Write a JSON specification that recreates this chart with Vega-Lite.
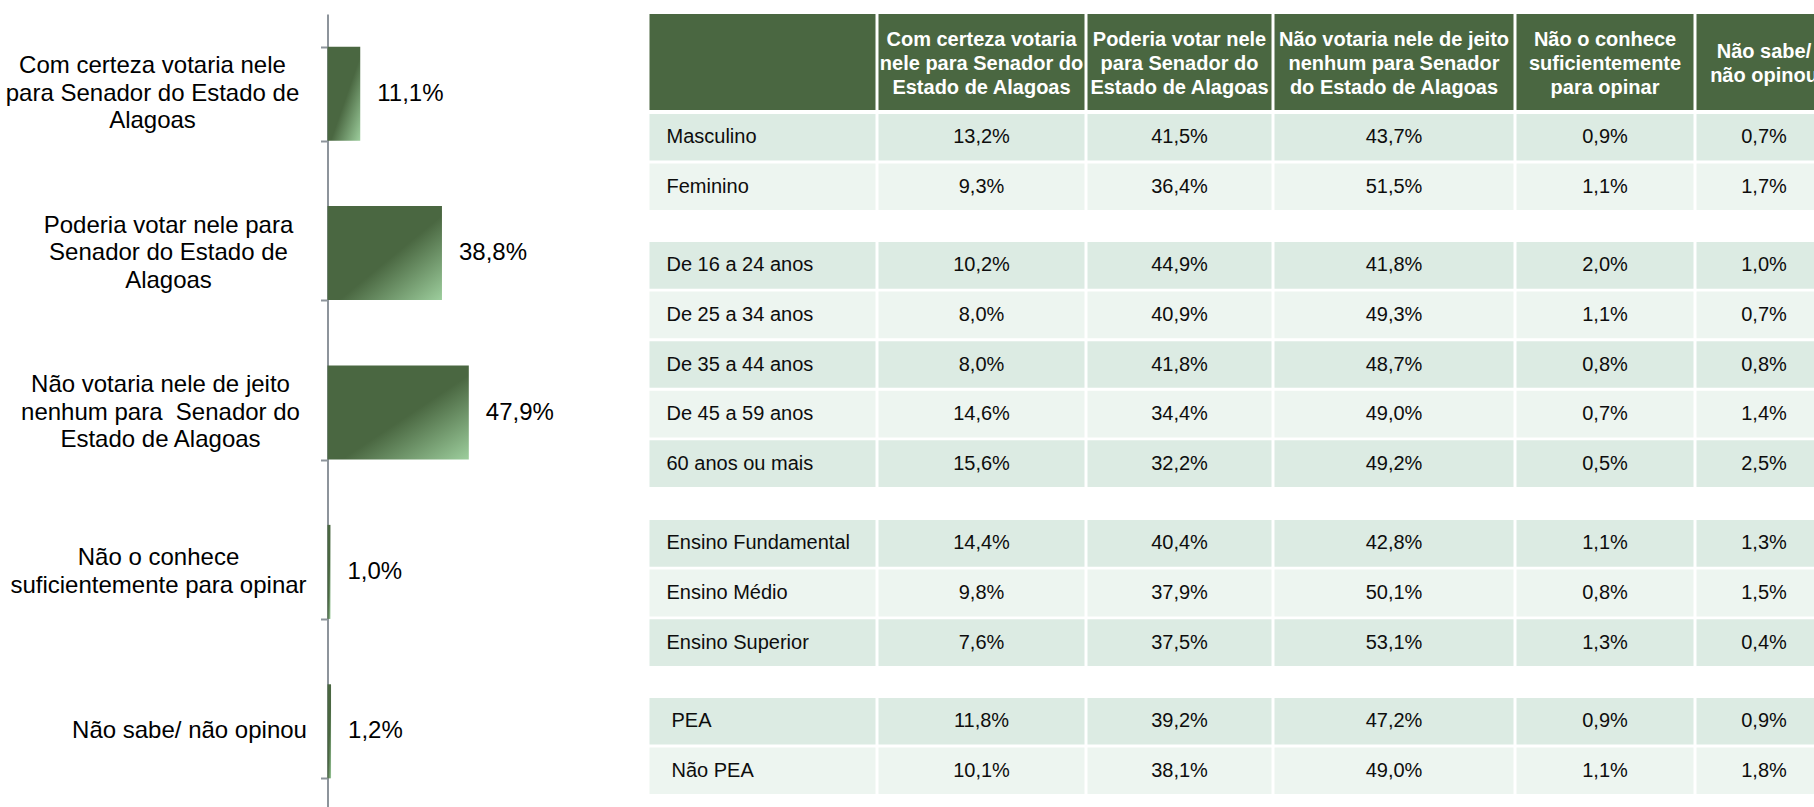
{
  "$schema": "https://vega.github.io/schema/vega-lite/v6.json",
  "padding": {"left": 5.5, "top": 14, "right": 0, "bottom": 0},
  "background": "white",
  "config": {
    "view": {"stroke": null},
    "locale": {"number": {"decimal": ",", "thousands": ".", "grouping": [3], "currency": ["R$", ""]}}
  },
  "datasets": {
    "bars": [
      {"resp": "Com certeza votaria nele\npara Senador do Estado de\nAlagoas", "pct": 0.111},
      {"resp": "Poderia votar nele para\nSenador do Estado de\nAlagoas", "pct": 0.388},
      {"resp": "Não votaria nele de jeito\nnenhum para\u00a0 Senador do\nEstado de Alagoas", "pct": 0.479},
      {"resp": "Não o conhece\nsuficientemente para opinar", "pct": 0.010},
      {"resp": "Não sabe/ não opinou", "pct": 0.012}
    ],
    "heads": [
      {"col": "c0", "head": ""},
      {"col": "c1", "head": ["Com certeza votaria", "nele para Senador do", "Estado de Alagoas"]},
      {"col": "c2", "head": ["Poderia votar nele", "para Senador do", "Estado de Alagoas"]},
      {"col": "c3", "head": ["Não votaria nele de jeito", "nenhum para Senador", "do Estado de Alagoas"]},
      {"col": "c4", "head": ["Não o conhece", "suficientemente", "para opinar"]},
      {"col": "c5", "head": ["Não sabe/", "não opinou"]}
    ],
    "cells": [
      {"grp": 1, "row": "Masculino", "col": "c1", "val": 0.132},
      {"grp": 1, "row": "Masculino", "col": "c2", "val": 0.415},
      {"grp": 1, "row": "Masculino", "col": "c3", "val": 0.437},
      {"grp": 1, "row": "Masculino", "col": "c4", "val": 0.009},
      {"grp": 1, "row": "Masculino", "col": "c5", "val": 0.007},
      {"grp": 1, "row": "Feminino", "col": "c1", "val": 0.093},
      {"grp": 1, "row": "Feminino", "col": "c2", "val": 0.364},
      {"grp": 1, "row": "Feminino", "col": "c3", "val": 0.515},
      {"grp": 1, "row": "Feminino", "col": "c4", "val": 0.011},
      {"grp": 1, "row": "Feminino", "col": "c5", "val": 0.017},
      {"grp": 2, "row": "De 16 a 24 anos", "col": "c1", "val": 0.102},
      {"grp": 2, "row": "De 16 a 24 anos", "col": "c2", "val": 0.449},
      {"grp": 2, "row": "De 16 a 24 anos", "col": "c3", "val": 0.418},
      {"grp": 2, "row": "De 16 a 24 anos", "col": "c4", "val": 0.020},
      {"grp": 2, "row": "De 16 a 24 anos", "col": "c5", "val": 0.010},
      {"grp": 2, "row": "De 25 a 34 anos", "col": "c1", "val": 0.080},
      {"grp": 2, "row": "De 25 a 34 anos", "col": "c2", "val": 0.409},
      {"grp": 2, "row": "De 25 a 34 anos", "col": "c3", "val": 0.493},
      {"grp": 2, "row": "De 25 a 34 anos", "col": "c4", "val": 0.011},
      {"grp": 2, "row": "De 25 a 34 anos", "col": "c5", "val": 0.007},
      {"grp": 2, "row": "De 35 a 44 anos", "col": "c1", "val": 0.080},
      {"grp": 2, "row": "De 35 a 44 anos", "col": "c2", "val": 0.418},
      {"grp": 2, "row": "De 35 a 44 anos", "col": "c3", "val": 0.487},
      {"grp": 2, "row": "De 35 a 44 anos", "col": "c4", "val": 0.008},
      {"grp": 2, "row": "De 35 a 44 anos", "col": "c5", "val": 0.008},
      {"grp": 2, "row": "De 45 a 59 anos", "col": "c1", "val": 0.146},
      {"grp": 2, "row": "De 45 a 59 anos", "col": "c2", "val": 0.344},
      {"grp": 2, "row": "De 45 a 59 anos", "col": "c3", "val": 0.490},
      {"grp": 2, "row": "De 45 a 59 anos", "col": "c4", "val": 0.007},
      {"grp": 2, "row": "De 45 a 59 anos", "col": "c5", "val": 0.014},
      {"grp": 2, "row": "60 anos ou mais", "col": "c1", "val": 0.156},
      {"grp": 2, "row": "60 anos ou mais", "col": "c2", "val": 0.322},
      {"grp": 2, "row": "60 anos ou mais", "col": "c3", "val": 0.492},
      {"grp": 2, "row": "60 anos ou mais", "col": "c4", "val": 0.005},
      {"grp": 2, "row": "60 anos ou mais", "col": "c5", "val": 0.025},
      {"grp": 3, "row": "Ensino Fundamental", "col": "c1", "val": 0.144},
      {"grp": 3, "row": "Ensino Fundamental", "col": "c2", "val": 0.404},
      {"grp": 3, "row": "Ensino Fundamental", "col": "c3", "val": 0.428},
      {"grp": 3, "row": "Ensino Fundamental", "col": "c4", "val": 0.011},
      {"grp": 3, "row": "Ensino Fundamental", "col": "c5", "val": 0.013},
      {"grp": 3, "row": "Ensino Médio", "col": "c1", "val": 0.098},
      {"grp": 3, "row": "Ensino Médio", "col": "c2", "val": 0.379},
      {"grp": 3, "row": "Ensino Médio", "col": "c3", "val": 0.501},
      {"grp": 3, "row": "Ensino Médio", "col": "c4", "val": 0.008},
      {"grp": 3, "row": "Ensino Médio", "col": "c5", "val": 0.015},
      {"grp": 3, "row": "Ensino Superior", "col": "c1", "val": 0.076},
      {"grp": 3, "row": "Ensino Superior", "col": "c2", "val": 0.375},
      {"grp": 3, "row": "Ensino Superior", "col": "c3", "val": 0.531},
      {"grp": 3, "row": "Ensino Superior", "col": "c4", "val": 0.013},
      {"grp": 3, "row": "Ensino Superior", "col": "c5", "val": 0.004},
      {"grp": 4, "row": "PEA", "col": "c1", "val": 0.118},
      {"grp": 4, "row": "PEA", "col": "c2", "val": 0.392},
      {"grp": 4, "row": "PEA", "col": "c3", "val": 0.472},
      {"grp": 4, "row": "PEA", "col": "c4", "val": 0.009},
      {"grp": 4, "row": "PEA", "col": "c5", "val": 0.009},
      {"grp": 4, "row": "Não PEA", "col": "c1", "val": 0.101},
      {"grp": 4, "row": "Não PEA", "col": "c2", "val": 0.381},
      {"grp": 4, "row": "Não PEA", "col": "c3", "val": 0.490},
      {"grp": 4, "row": "Não PEA", "col": "c4", "val": 0.011},
      {"grp": 4, "row": "Não PEA", "col": "c5", "val": 0.018}
    ]
  },
  "spacing": 27,
  "hconcat": [
    {
      "width": 295,
      "height": 797,
      "data": {"name": "bars"},
      "encoding": {
        "y": {
          "field": "resp", "type": "nominal", "sort": null, "title": null,
          "scale": {"paddingInner": 0.41, "paddingOuter": 0.205},
          "axis": {
            "domainColor": "#8d949b", "domainWidth": 2,
            "tickColor": "#8d949b", "tickWidth": 2, "tickSize": 7, "tickBand": "extent",
            "labels": false
          }
        }
      },
      "layer": [
        {
          "mark": {
            "type": "bar",
            "color": {
              "gradient": "linear", "x1": 0, "y1": 0, "x2": 1, "y2": 1,
              "stops": [
                {"offset": 0, "color": "#4a6741"},
                {"offset": 0.55, "color": "#4a6741"},
                {"offset": 1, "color": "#9dce9d"}
              ]
            }
          },
          "encoding": {
            "x": {"field": "pct", "type": "quantitative", "scale": {"domain": [0, 1]}, "axis": null}
          }
        },
        {
          "mark": {"type": "text", "align": "left", "baseline": "middle", "dx": 17, "font": "Liberation Sans", "fontSize": 24, "color": "#000000"},
          "encoding": {
            "x": {"field": "pct", "type": "quantitative", "axis": null},
            "text": {"field": "pct", "type": "quantitative", "format": ".1%"}
          }
        },
        {
          "transform": [{"filter": "indexof(datum.resp, 'Com certeza') === 0"}],
          "mark": {"type": "text", "align": "center", "baseline": "middle", "lineBreak": "\n", "lineHeight": 27.5, "dx": -175, "dy": -27.5, "font": "Liberation Sans", "fontSize": 24, "color": "#000000"},
          "encoding": {"x": {"datum": 0, "type": "quantitative"}, "text": {"field": "resp", "type": "nominal"}}
        },
        {
          "transform": [{"filter": "indexof(datum.resp, 'Poderia') === 0"}],
          "mark": {"type": "text", "align": "center", "baseline": "middle", "lineBreak": "\n", "lineHeight": 27.5, "dx": -159, "dy": -27.5, "font": "Liberation Sans", "fontSize": 24, "color": "#000000"},
          "encoding": {"x": {"datum": 0, "type": "quantitative"}, "text": {"field": "resp", "type": "nominal"}}
        },
        {
          "transform": [{"filter": "indexof(datum.resp, 'Não votaria') === 0"}],
          "mark": {"type": "text", "align": "center", "baseline": "middle", "lineBreak": "\n", "lineHeight": 27.5, "dx": -167, "dy": -27.5, "font": "Liberation Sans", "fontSize": 24, "color": "#000000"},
          "encoding": {"x": {"datum": 0, "type": "quantitative"}, "text": {"field": "resp", "type": "nominal"}}
        },
        {
          "transform": [{"filter": "indexof(datum.resp, 'Não o conhece') === 0"}],
          "mark": {"type": "text", "align": "center", "baseline": "middle", "lineBreak": "\n", "lineHeight": 27.5, "dx": -169, "dy": -13.75, "font": "Liberation Sans", "fontSize": 24, "color": "#000000"},
          "encoding": {"x": {"datum": 0, "type": "quantitative"}, "text": {"field": "resp", "type": "nominal"}}
        },
        {
          "transform": [{"filter": "indexof(datum.resp, 'Não sabe') === 0"}],
          "mark": {"type": "text", "align": "center", "baseline": "middle", "lineBreak": "\n", "lineHeight": 27.5, "dx": -138, "dy": 0, "font": "Liberation Sans", "fontSize": 24, "color": "#000000"},
          "encoding": {"x": {"datum": 0, "type": "quantitative"}, "text": {"field": "resp", "type": "nominal"}}
        }
      ]
    },
    {
      "spacing": 4,
      "vconcat": [
        {
          "spacing": 3,
          "hconcat": [
            {"width": 226, "height": 96, "data": {"name": "heads"}, "transform": [{"filter": "datum.col == 'c0'"}],
             "encoding": {"x": {"field": "col", "type": "nominal", "axis": null, "scale": {"paddingInner": 0, "paddingOuter": 0}}, "y": {"field": "col", "type": "nominal", "axis": null, "scale": {"paddingInner": 0, "paddingOuter": 0}}},
             "layer": [{"mark": {"type": "rect", "color": "#4a6741"}}]},
            {"width": 206, "height": 96, "data": {"name": "heads"}, "transform": [{"filter": "datum.col == 'c1'"}],
             "encoding": {"x": {"field": "col", "type": "nominal", "axis": null, "scale": {"paddingInner": 0, "paddingOuter": 0}}, "y": {"field": "col", "type": "nominal", "axis": null, "scale": {"paddingInner": 0, "paddingOuter": 0}}},
             "layer": [{"mark": {"type": "rect", "color": "#4a6741"}}, {"mark": {"type": "text", "font": "Liberation Sans", "fontSize": 20, "fontWeight": "bold", "color": "#ffffff", "lineHeight": 24, "dy": -22}, "encoding": {"text": {"field": "head"}}}]},
            {"width": 184, "height": 96, "data": {"name": "heads"}, "transform": [{"filter": "datum.col == 'c2'"}],
             "encoding": {"x": {"field": "col", "type": "nominal", "axis": null, "scale": {"paddingInner": 0, "paddingOuter": 0}}, "y": {"field": "col", "type": "nominal", "axis": null, "scale": {"paddingInner": 0, "paddingOuter": 0}}},
             "layer": [{"mark": {"type": "rect", "color": "#4a6741"}}, {"mark": {"type": "text", "font": "Liberation Sans", "fontSize": 20, "fontWeight": "bold", "color": "#ffffff", "lineHeight": 24, "dy": -22}, "encoding": {"text": {"field": "head"}}}]},
            {"width": 239, "height": 96, "data": {"name": "heads"}, "transform": [{"filter": "datum.col == 'c3'"}],
             "encoding": {"x": {"field": "col", "type": "nominal", "axis": null, "scale": {"paddingInner": 0, "paddingOuter": 0}}, "y": {"field": "col", "type": "nominal", "axis": null, "scale": {"paddingInner": 0, "paddingOuter": 0}}},
             "layer": [{"mark": {"type": "rect", "color": "#4a6741"}}, {"mark": {"type": "text", "font": "Liberation Sans", "fontSize": 20, "fontWeight": "bold", "color": "#ffffff", "lineHeight": 24, "dy": -22}, "encoding": {"text": {"field": "head"}}}]},
            {"width": 177, "height": 96, "data": {"name": "heads"}, "transform": [{"filter": "datum.col == 'c4'"}],
             "encoding": {"x": {"field": "col", "type": "nominal", "axis": null, "scale": {"paddingInner": 0, "paddingOuter": 0}}, "y": {"field": "col", "type": "nominal", "axis": null, "scale": {"paddingInner": 0, "paddingOuter": 0}}},
             "layer": [{"mark": {"type": "rect", "color": "#4a6741"}}, {"mark": {"type": "text", "font": "Liberation Sans", "fontSize": 20, "fontWeight": "bold", "color": "#ffffff", "lineHeight": 24, "dy": -22}, "encoding": {"text": {"field": "head"}}}]},
            {"width": 135, "height": 96, "data": {"name": "heads"}, "transform": [{"filter": "datum.col == 'c5'"}],
             "encoding": {"x": {"field": "col", "type": "nominal", "axis": null, "scale": {"paddingInner": 0, "paddingOuter": 0}}, "y": {"field": "col", "type": "nominal", "axis": null, "scale": {"paddingInner": 0, "paddingOuter": 0}}},
             "layer": [{"mark": {"type": "rect", "color": "#4a6741"}}, {"mark": {"type": "text", "font": "Liberation Sans", "fontSize": 20, "fontWeight": "bold", "color": "#ffffff", "lineHeight": 24, "dy": -10}, "encoding": {"text": {"field": "head"}}}]}
          ]
        },
        {
          "spacing": 32,
          "vconcat": [
            {
              "spacing": 3,
              "hconcat": [
                {"width": 226, "height": 96, "data": {"name": "cells"}, "transform": [{"filter": "datum.grp == 1 && datum.col == 'c1'"}, {"window": [{"op": "row_number", "as": "rn"}]}],
                 "encoding": {"y": {"field": "row", "type": "nominal", "sort": null, "axis": null, "scale": {"paddingInner": 0.057, "paddingOuter": 0}}, "x": {"field": "col", "type": "nominal", "axis": null, "scale": {"paddingInner": 0, "paddingOuter": 0}}},
                 "layer": [{"mark": "rect", "encoding": {"fill": {"condition": {"test": "datum.rn % 2 == 1", "value": "#dcebe3"}, "value": "#edf5f0"}}},
                           {"mark": {"type": "text", "align": "left", "dx": 17, "font": "Liberation Sans", "fontSize": 20, "color": "#0d0d0d"}, "encoding": {"x": {"field": "col", "type": "nominal", "axis": null, "bandPosition": 0}, "text": {"field": "row", "type": "nominal"}}}]},
                {"width": 206, "height": 96, "data": {"name": "cells"}, "transform": [{"filter": "datum.grp == 1 && datum.col == 'c1'"}, {"window": [{"op": "row_number", "as": "rn"}]}],
                 "encoding": {"y": {"field": "row", "type": "nominal", "sort": null, "axis": null, "scale": {"paddingInner": 0.057, "paddingOuter": 0}}, "x": {"field": "col", "type": "nominal", "axis": null, "scale": {"paddingInner": 0, "paddingOuter": 0}}},
                 "layer": [{"mark": "rect", "encoding": {"fill": {"condition": {"test": "datum.rn % 2 == 1", "value": "#dcebe3"}, "value": "#edf5f0"}}},
                           {"mark": {"type": "text", "font": "Liberation Sans", "fontSize": 20, "color": "#0d0d0d"}, "encoding": {"text": {"field": "val", "type": "quantitative", "format": ".1%"}}}]},
                {"width": 184, "height": 96, "data": {"name": "cells"}, "transform": [{"filter": "datum.grp == 1 && datum.col == 'c2'"}, {"window": [{"op": "row_number", "as": "rn"}]}],
                 "encoding": {"y": {"field": "row", "type": "nominal", "sort": null, "axis": null, "scale": {"paddingInner": 0.057, "paddingOuter": 0}}, "x": {"field": "col", "type": "nominal", "axis": null, "scale": {"paddingInner": 0, "paddingOuter": 0}}},
                 "layer": [{"mark": "rect", "encoding": {"fill": {"condition": {"test": "datum.rn % 2 == 1", "value": "#dcebe3"}, "value": "#edf5f0"}}},
                           {"mark": {"type": "text", "font": "Liberation Sans", "fontSize": 20, "color": "#0d0d0d"}, "encoding": {"text": {"field": "val", "type": "quantitative", "format": ".1%"}}}]},
                {"width": 239, "height": 96, "data": {"name": "cells"}, "transform": [{"filter": "datum.grp == 1 && datum.col == 'c3'"}, {"window": [{"op": "row_number", "as": "rn"}]}],
                 "encoding": {"y": {"field": "row", "type": "nominal", "sort": null, "axis": null, "scale": {"paddingInner": 0.057, "paddingOuter": 0}}, "x": {"field": "col", "type": "nominal", "axis": null, "scale": {"paddingInner": 0, "paddingOuter": 0}}},
                 "layer": [{"mark": "rect", "encoding": {"fill": {"condition": {"test": "datum.rn % 2 == 1", "value": "#dcebe3"}, "value": "#edf5f0"}}},
                           {"mark": {"type": "text", "font": "Liberation Sans", "fontSize": 20, "color": "#0d0d0d"}, "encoding": {"text": {"field": "val", "type": "quantitative", "format": ".1%"}}}]},
                {"width": 177, "height": 96, "data": {"name": "cells"}, "transform": [{"filter": "datum.grp == 1 && datum.col == 'c4'"}, {"window": [{"op": "row_number", "as": "rn"}]}],
                 "encoding": {"y": {"field": "row", "type": "nominal", "sort": null, "axis": null, "scale": {"paddingInner": 0.057, "paddingOuter": 0}}, "x": {"field": "col", "type": "nominal", "axis": null, "scale": {"paddingInner": 0, "paddingOuter": 0}}},
                 "layer": [{"mark": "rect", "encoding": {"fill": {"condition": {"test": "datum.rn % 2 == 1", "value": "#dcebe3"}, "value": "#edf5f0"}}},
                           {"mark": {"type": "text", "font": "Liberation Sans", "fontSize": 20, "color": "#0d0d0d"}, "encoding": {"text": {"field": "val", "type": "quantitative", "format": ".1%"}}}]},
                {"width": 135, "height": 96, "data": {"name": "cells"}, "transform": [{"filter": "datum.grp == 1 && datum.col == 'c5'"}, {"window": [{"op": "row_number", "as": "rn"}]}],
                 "encoding": {"y": {"field": "row", "type": "nominal", "sort": null, "axis": null, "scale": {"paddingInner": 0.057, "paddingOuter": 0}}, "x": {"field": "col", "type": "nominal", "axis": null, "scale": {"paddingInner": 0, "paddingOuter": 0}}},
                 "layer": [{"mark": "rect", "encoding": {"fill": {"condition": {"test": "datum.rn % 2 == 1", "value": "#dcebe3"}, "value": "#edf5f0"}}},
                           {"mark": {"type": "text", "font": "Liberation Sans", "fontSize": 20, "color": "#0d0d0d"}, "encoding": {"text": {"field": "val", "type": "quantitative", "format": ".1%"}}}]}
              ]
            },
            {
              "spacing": 3,
              "hconcat": [
                {"width": 226, "height": 245, "data": {"name": "cells"}, "transform": [{"filter": "datum.grp == 2 && datum.col == 'c1'"}, {"window": [{"op": "row_number", "as": "rn"}]}],
                 "encoding": {"y": {"field": "row", "type": "nominal", "sort": null, "axis": null, "scale": {"paddingInner": 0.057, "paddingOuter": 0}}, "x": {"field": "col", "type": "nominal", "axis": null, "scale": {"paddingInner": 0, "paddingOuter": 0}}},
                 "layer": [{"mark": "rect", "encoding": {"fill": {"condition": {"test": "datum.rn % 2 == 1", "value": "#dcebe3"}, "value": "#edf5f0"}}},
                           {"mark": {"type": "text", "align": "left", "dx": 17, "font": "Liberation Sans", "fontSize": 20, "color": "#0d0d0d"}, "encoding": {"x": {"field": "col", "type": "nominal", "axis": null, "bandPosition": 0}, "text": {"field": "row", "type": "nominal"}}}]},
                {"width": 206, "height": 245, "data": {"name": "cells"}, "transform": [{"filter": "datum.grp == 2 && datum.col == 'c1'"}, {"window": [{"op": "row_number", "as": "rn"}]}],
                 "encoding": {"y": {"field": "row", "type": "nominal", "sort": null, "axis": null, "scale": {"paddingInner": 0.057, "paddingOuter": 0}}, "x": {"field": "col", "type": "nominal", "axis": null, "scale": {"paddingInner": 0, "paddingOuter": 0}}},
                 "layer": [{"mark": "rect", "encoding": {"fill": {"condition": {"test": "datum.rn % 2 == 1", "value": "#dcebe3"}, "value": "#edf5f0"}}},
                           {"mark": {"type": "text", "font": "Liberation Sans", "fontSize": 20, "color": "#0d0d0d"}, "encoding": {"text": {"field": "val", "type": "quantitative", "format": ".1%"}}}]},
                {"width": 184, "height": 245, "data": {"name": "cells"}, "transform": [{"filter": "datum.grp == 2 && datum.col == 'c2'"}, {"window": [{"op": "row_number", "as": "rn"}]}],
                 "encoding": {"y": {"field": "row", "type": "nominal", "sort": null, "axis": null, "scale": {"paddingInner": 0.057, "paddingOuter": 0}}, "x": {"field": "col", "type": "nominal", "axis": null, "scale": {"paddingInner": 0, "paddingOuter": 0}}},
                 "layer": [{"mark": "rect", "encoding": {"fill": {"condition": {"test": "datum.rn % 2 == 1", "value": "#dcebe3"}, "value": "#edf5f0"}}},
                           {"mark": {"type": "text", "font": "Liberation Sans", "fontSize": 20, "color": "#0d0d0d"}, "encoding": {"text": {"field": "val", "type": "quantitative", "format": ".1%"}}}]},
                {"width": 239, "height": 245, "data": {"name": "cells"}, "transform": [{"filter": "datum.grp == 2 && datum.col == 'c3'"}, {"window": [{"op": "row_number", "as": "rn"}]}],
                 "encoding": {"y": {"field": "row", "type": "nominal", "sort": null, "axis": null, "scale": {"paddingInner": 0.057, "paddingOuter": 0}}, "x": {"field": "col", "type": "nominal", "axis": null, "scale": {"paddingInner": 0, "paddingOuter": 0}}},
                 "layer": [{"mark": "rect", "encoding": {"fill": {"condition": {"test": "datum.rn % 2 == 1", "value": "#dcebe3"}, "value": "#edf5f0"}}},
                           {"mark": {"type": "text", "font": "Liberation Sans", "fontSize": 20, "color": "#0d0d0d"}, "encoding": {"text": {"field": "val", "type": "quantitative", "format": ".1%"}}}]},
                {"width": 177, "height": 245, "data": {"name": "cells"}, "transform": [{"filter": "datum.grp == 2 && datum.col == 'c4'"}, {"window": [{"op": "row_number", "as": "rn"}]}],
                 "encoding": {"y": {"field": "row", "type": "nominal", "sort": null, "axis": null, "scale": {"paddingInner": 0.057, "paddingOuter": 0}}, "x": {"field": "col", "type": "nominal", "axis": null, "scale": {"paddingInner": 0, "paddingOuter": 0}}},
                 "layer": [{"mark": "rect", "encoding": {"fill": {"condition": {"test": "datum.rn % 2 == 1", "value": "#dcebe3"}, "value": "#edf5f0"}}},
                           {"mark": {"type": "text", "font": "Liberation Sans", "fontSize": 20, "color": "#0d0d0d"}, "encoding": {"text": {"field": "val", "type": "quantitative", "format": ".1%"}}}]},
                {"width": 135, "height": 245, "data": {"name": "cells"}, "transform": [{"filter": "datum.grp == 2 && datum.col == 'c5'"}, {"window": [{"op": "row_number", "as": "rn"}]}],
                 "encoding": {"y": {"field": "row", "type": "nominal", "sort": null, "axis": null, "scale": {"paddingInner": 0.057, "paddingOuter": 0}}, "x": {"field": "col", "type": "nominal", "axis": null, "scale": {"paddingInner": 0, "paddingOuter": 0}}},
                 "layer": [{"mark": "rect", "encoding": {"fill": {"condition": {"test": "datum.rn % 2 == 1", "value": "#dcebe3"}, "value": "#edf5f0"}}},
                           {"mark": {"type": "text", "font": "Liberation Sans", "fontSize": 20, "color": "#0d0d0d"}, "encoding": {"text": {"field": "val", "type": "quantitative", "format": ".1%"}}}]}
              ]
            },
            {
              "spacing": 3,
              "hconcat": [
                {"width": 226, "height": 146, "data": {"name": "cells"}, "transform": [{"filter": "datum.grp == 3 && datum.col == 'c1'"}, {"window": [{"op": "row_number", "as": "rn"}]}],
                 "encoding": {"y": {"field": "row", "type": "nominal", "sort": null, "axis": null, "scale": {"paddingInner": 0.057, "paddingOuter": 0}}, "x": {"field": "col", "type": "nominal", "axis": null, "scale": {"paddingInner": 0, "paddingOuter": 0}}},
                 "layer": [{"mark": "rect", "encoding": {"fill": {"condition": {"test": "datum.rn % 2 == 1", "value": "#dcebe3"}, "value": "#edf5f0"}}},
                           {"mark": {"type": "text", "align": "left", "dx": 17, "font": "Liberation Sans", "fontSize": 20, "color": "#0d0d0d"}, "encoding": {"x": {"field": "col", "type": "nominal", "axis": null, "bandPosition": 0}, "text": {"field": "row", "type": "nominal"}}}]},
                {"width": 206, "height": 146, "data": {"name": "cells"}, "transform": [{"filter": "datum.grp == 3 && datum.col == 'c1'"}, {"window": [{"op": "row_number", "as": "rn"}]}],
                 "encoding": {"y": {"field": "row", "type": "nominal", "sort": null, "axis": null, "scale": {"paddingInner": 0.057, "paddingOuter": 0}}, "x": {"field": "col", "type": "nominal", "axis": null, "scale": {"paddingInner": 0, "paddingOuter": 0}}},
                 "layer": [{"mark": "rect", "encoding": {"fill": {"condition": {"test": "datum.rn % 2 == 1", "value": "#dcebe3"}, "value": "#edf5f0"}}},
                           {"mark": {"type": "text", "font": "Liberation Sans", "fontSize": 20, "color": "#0d0d0d"}, "encoding": {"text": {"field": "val", "type": "quantitative", "format": ".1%"}}}]},
                {"width": 184, "height": 146, "data": {"name": "cells"}, "transform": [{"filter": "datum.grp == 3 && datum.col == 'c2'"}, {"window": [{"op": "row_number", "as": "rn"}]}],
                 "encoding": {"y": {"field": "row", "type": "nominal", "sort": null, "axis": null, "scale": {"paddingInner": 0.057, "paddingOuter": 0}}, "x": {"field": "col", "type": "nominal", "axis": null, "scale": {"paddingInner": 0, "paddingOuter": 0}}},
                 "layer": [{"mark": "rect", "encoding": {"fill": {"condition": {"test": "datum.rn % 2 == 1", "value": "#dcebe3"}, "value": "#edf5f0"}}},
                           {"mark": {"type": "text", "font": "Liberation Sans", "fontSize": 20, "color": "#0d0d0d"}, "encoding": {"text": {"field": "val", "type": "quantitative", "format": ".1%"}}}]},
                {"width": 239, "height": 146, "data": {"name": "cells"}, "transform": [{"filter": "datum.grp == 3 && datum.col == 'c3'"}, {"window": [{"op": "row_number", "as": "rn"}]}],
                 "encoding": {"y": {"field": "row", "type": "nominal", "sort": null, "axis": null, "scale": {"paddingInner": 0.057, "paddingOuter": 0}}, "x": {"field": "col", "type": "nominal", "axis": null, "scale": {"paddingInner": 0, "paddingOuter": 0}}},
                 "layer": [{"mark": "rect", "encoding": {"fill": {"condition": {"test": "datum.rn % 2 == 1", "value": "#dcebe3"}, "value": "#edf5f0"}}},
                           {"mark": {"type": "text", "font": "Liberation Sans", "fontSize": 20, "color": "#0d0d0d"}, "encoding": {"text": {"field": "val", "type": "quantitative", "format": ".1%"}}}]},
                {"width": 177, "height": 146, "data": {"name": "cells"}, "transform": [{"filter": "datum.grp == 3 && datum.col == 'c4'"}, {"window": [{"op": "row_number", "as": "rn"}]}],
                 "encoding": {"y": {"field": "row", "type": "nominal", "sort": null, "axis": null, "scale": {"paddingInner": 0.057, "paddingOuter": 0}}, "x": {"field": "col", "type": "nominal", "axis": null, "scale": {"paddingInner": 0, "paddingOuter": 0}}},
                 "layer": [{"mark": "rect", "encoding": {"fill": {"condition": {"test": "datum.rn % 2 == 1", "value": "#dcebe3"}, "value": "#edf5f0"}}},
                           {"mark": {"type": "text", "font": "Liberation Sans", "fontSize": 20, "color": "#0d0d0d"}, "encoding": {"text": {"field": "val", "type": "quantitative", "format": ".1%"}}}]},
                {"width": 135, "height": 146, "data": {"name": "cells"}, "transform": [{"filter": "datum.grp == 3 && datum.col == 'c5'"}, {"window": [{"op": "row_number", "as": "rn"}]}],
                 "encoding": {"y": {"field": "row", "type": "nominal", "sort": null, "axis": null, "scale": {"paddingInner": 0.057, "paddingOuter": 0}}, "x": {"field": "col", "type": "nominal", "axis": null, "scale": {"paddingInner": 0, "paddingOuter": 0}}},
                 "layer": [{"mark": "rect", "encoding": {"fill": {"condition": {"test": "datum.rn % 2 == 1", "value": "#dcebe3"}, "value": "#edf5f0"}}},
                           {"mark": {"type": "text", "font": "Liberation Sans", "fontSize": 20, "color": "#0d0d0d"}, "encoding": {"text": {"field": "val", "type": "quantitative", "format": ".1%"}}}]}
              ]
            },
            {
              "spacing": 3,
              "hconcat": [
                {"width": 226, "height": 96, "data": {"name": "cells"}, "transform": [{"filter": "datum.grp == 4 && datum.col == 'c1'"}, {"window": [{"op": "row_number", "as": "rn"}]}],
                 "encoding": {"y": {"field": "row", "type": "nominal", "sort": null, "axis": null, "scale": {"paddingInner": 0.057, "paddingOuter": 0}}, "x": {"field": "col", "type": "nominal", "axis": null, "scale": {"paddingInner": 0, "paddingOuter": 0}}},
                 "layer": [{"mark": "rect", "encoding": {"fill": {"condition": {"test": "datum.rn % 2 == 1", "value": "#dcebe3"}, "value": "#edf5f0"}}},
                           {"mark": {"type": "text", "align": "left", "dx": 22, "font": "Liberation Sans", "fontSize": 20, "color": "#0d0d0d"}, "encoding": {"x": {"field": "col", "type": "nominal", "axis": null, "bandPosition": 0}, "text": {"field": "row", "type": "nominal"}}}]},
                {"width": 206, "height": 96, "data": {"name": "cells"}, "transform": [{"filter": "datum.grp == 4 && datum.col == 'c1'"}, {"window": [{"op": "row_number", "as": "rn"}]}],
                 "encoding": {"y": {"field": "row", "type": "nominal", "sort": null, "axis": null, "scale": {"paddingInner": 0.057, "paddingOuter": 0}}, "x": {"field": "col", "type": "nominal", "axis": null, "scale": {"paddingInner": 0, "paddingOuter": 0}}},
                 "layer": [{"mark": "rect", "encoding": {"fill": {"condition": {"test": "datum.rn % 2 == 1", "value": "#dcebe3"}, "value": "#edf5f0"}}},
                           {"mark": {"type": "text", "font": "Liberation Sans", "fontSize": 20, "color": "#0d0d0d"}, "encoding": {"text": {"field": "val", "type": "quantitative", "format": ".1%"}}}]},
                {"width": 184, "height": 96, "data": {"name": "cells"}, "transform": [{"filter": "datum.grp == 4 && datum.col == 'c2'"}, {"window": [{"op": "row_number", "as": "rn"}]}],
                 "encoding": {"y": {"field": "row", "type": "nominal", "sort": null, "axis": null, "scale": {"paddingInner": 0.057, "paddingOuter": 0}}, "x": {"field": "col", "type": "nominal", "axis": null, "scale": {"paddingInner": 0, "paddingOuter": 0}}},
                 "layer": [{"mark": "rect", "encoding": {"fill": {"condition": {"test": "datum.rn % 2 == 1", "value": "#dcebe3"}, "value": "#edf5f0"}}},
                           {"mark": {"type": "text", "font": "Liberation Sans", "fontSize": 20, "color": "#0d0d0d"}, "encoding": {"text": {"field": "val", "type": "quantitative", "format": ".1%"}}}]},
                {"width": 239, "height": 96, "data": {"name": "cells"}, "transform": [{"filter": "datum.grp == 4 && datum.col == 'c3'"}, {"window": [{"op": "row_number", "as": "rn"}]}],
                 "encoding": {"y": {"field": "row", "type": "nominal", "sort": null, "axis": null, "scale": {"paddingInner": 0.057, "paddingOuter": 0}}, "x": {"field": "col", "type": "nominal", "axis": null, "scale": {"paddingInner": 0, "paddingOuter": 0}}},
                 "layer": [{"mark": "rect", "encoding": {"fill": {"condition": {"test": "datum.rn % 2 == 1", "value": "#dcebe3"}, "value": "#edf5f0"}}},
                           {"mark": {"type": "text", "font": "Liberation Sans", "fontSize": 20, "color": "#0d0d0d"}, "encoding": {"text": {"field": "val", "type": "quantitative", "format": ".1%"}}}]},
                {"width": 177, "height": 96, "data": {"name": "cells"}, "transform": [{"filter": "datum.grp == 4 && datum.col == 'c4'"}, {"window": [{"op": "row_number", "as": "rn"}]}],
                 "encoding": {"y": {"field": "row", "type": "nominal", "sort": null, "axis": null, "scale": {"paddingInner": 0.057, "paddingOuter": 0}}, "x": {"field": "col", "type": "nominal", "axis": null, "scale": {"paddingInner": 0, "paddingOuter": 0}}},
                 "layer": [{"mark": "rect", "encoding": {"fill": {"condition": {"test": "datum.rn % 2 == 1", "value": "#dcebe3"}, "value": "#edf5f0"}}},
                           {"mark": {"type": "text", "font": "Liberation Sans", "fontSize": 20, "color": "#0d0d0d"}, "encoding": {"text": {"field": "val", "type": "quantitative", "format": ".1%"}}}]},
                {"width": 135, "height": 96, "data": {"name": "cells"}, "transform": [{"filter": "datum.grp == 4 && datum.col == 'c5'"}, {"window": [{"op": "row_number", "as": "rn"}]}],
                 "encoding": {"y": {"field": "row", "type": "nominal", "sort": null, "axis": null, "scale": {"paddingInner": 0.057, "paddingOuter": 0}}, "x": {"field": "col", "type": "nominal", "axis": null, "scale": {"paddingInner": 0, "paddingOuter": 0}}},
                 "layer": [{"mark": "rect", "encoding": {"fill": {"condition": {"test": "datum.rn % 2 == 1", "value": "#dcebe3"}, "value": "#edf5f0"}}},
                           {"mark": {"type": "text", "font": "Liberation Sans", "fontSize": 20, "color": "#0d0d0d"}, "encoding": {"text": {"field": "val", "type": "quantitative", "format": ".1%"}}}]}
              ]
            }
          ]
        }
      ]
    }
  ]
}
